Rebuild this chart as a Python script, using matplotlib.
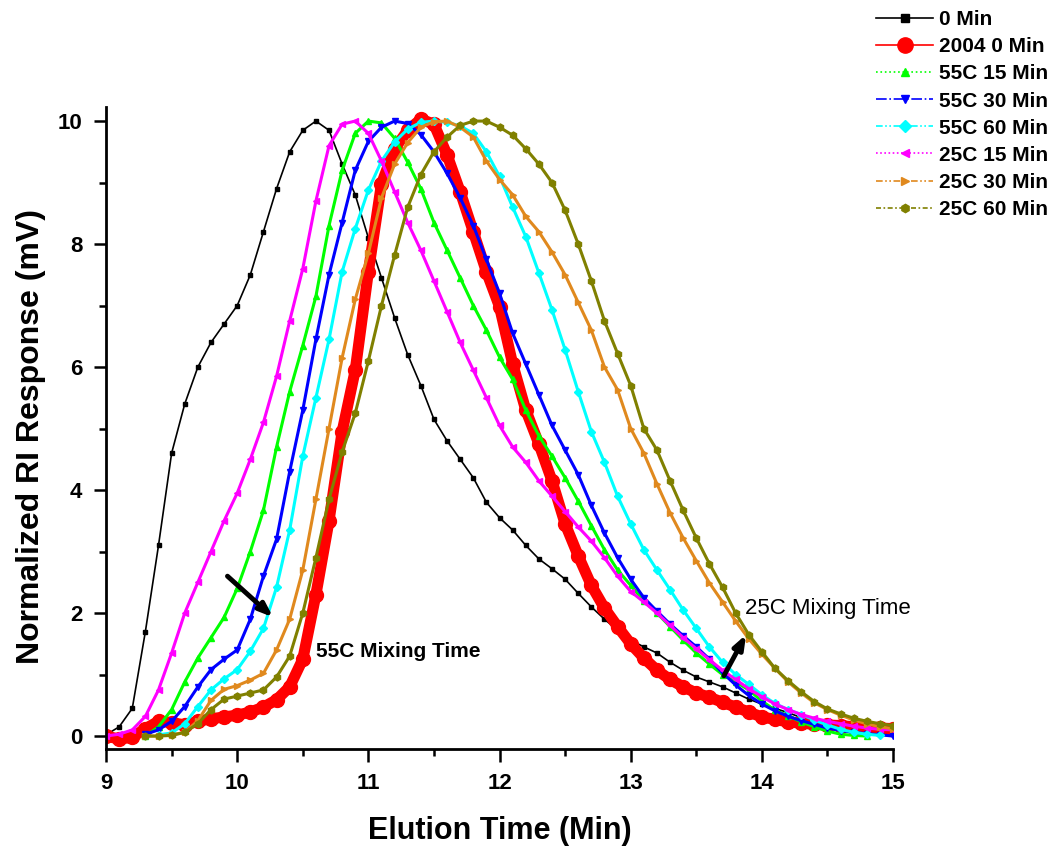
import numpy as np
import matplotlib
matplotlib.use("Agg")
import matplotlib.pyplot as plt
from matplotlib.lines import Line2D

plt.rcParams['font.family'] = ['Liberation Sans', 'DejaVu Sans']

# sampling step of the read-off values (min)
step = 0.1

# series: first elution time + normalized RI response every 0.1 min
t0_0min = 9.0
ri_0min = [0.02, 0.15, 0.45, 1.7, 3.1, 4.6, 5.4, 6.0, 6.4, 6.7,
           7.0, 7.5, 8.2, 8.9, 9.5, 9.85, 10.0, 9.85, 9.3, 8.8,
           8.1, 7.45, 6.8, 6.2, 5.7, 5.15, 4.8, 4.5, 4.2, 3.8,
           3.55, 3.35, 3.1, 2.88, 2.72, 2.55, 2.32, 2.1, 1.9, 1.72,
           1.56, 1.45, 1.35, 1.2, 1.07, 0.96, 0.88, 0.8, 0.7, 0.6,
           0.52, 0.45, 0.38, 0.3, 0.25, 0.2, 0.15, 0.12, 0.09, 0.06, 0.04]

t0_2004 = 9.0
ri_2004 = [0.0, -0.05, -0.02, 0.12, 0.24, 0.22, 0.18, 0.24, 0.28, 0.31,
           0.34, 0.39, 0.47, 0.59, 0.8, 1.25, 2.3, 3.5, 4.95, 5.95,
           7.55, 8.98, 9.55, 9.85, 10.03, 9.95, 9.45, 8.85, 8.2, 7.55,
           6.98, 6.05, 5.3, 4.75, 4.15, 3.45, 2.93, 2.45, 2.08, 1.78,
           1.5, 1.27, 1.07, 0.92, 0.8, 0.7, 0.63, 0.55, 0.47, 0.39,
           0.31, 0.27, 0.23, 0.21, 0.19, 0.18, 0.17, 0.15, 0.14, 0.13, 0.12]

t0_55c15 = 9.3
ri_55c15 = [0.0, 0.15, 0.43, 0.88, 1.27, 1.6, 1.93, 2.4, 3.0, 3.67,
            4.7, 5.6, 6.35, 7.15, 8.3, 9.2, 9.8, 10.0, 9.97, 9.72,
            9.33, 8.9, 8.35, 7.9, 7.45, 7.0, 6.6, 6.16, 5.8, 5.3,
            4.88, 4.55, 4.2, 3.82, 3.42, 3.03, 2.7, 2.45, 2.2, 2.0,
            1.78, 1.56, 1.35, 1.17, 1.0, 0.88, 0.75, 0.57, 0.42, 0.33,
            0.23, 0.15, 0.08, 0.03, 0.01, 0.0]

t0_55c30 = 9.3
ri_55c30 = [0.03, 0.1, 0.24, 0.48, 0.8, 1.08, 1.25, 1.4, 1.9, 2.6,
            3.2, 4.3, 5.3, 6.45, 7.5, 8.35, 9.2, 9.67, 9.9, 10.0,
            9.96, 9.78, 9.5, 9.15, 8.75, 8.3, 7.75, 7.2, 6.55, 6.05,
            5.55, 5.05, 4.65, 4.25, 3.75, 3.3, 2.9, 2.55, 2.25, 2.03,
            1.82, 1.63, 1.45, 1.25, 1.03, 0.83, 0.66, 0.52, 0.41, 0.32,
            0.25, 0.19, 0.13, 0.09, 0.06, 0.04, 0.02, 0.0]

t0_55c60 = 9.4
ri_55c60 = [0.02, 0.05, 0.2, 0.48, 0.75, 0.93, 1.08, 1.38, 1.75, 2.42,
            3.35, 4.55, 5.5, 6.45, 7.55, 8.25, 8.88, 9.35, 9.66, 9.87,
            9.98, 10.0, 9.98, 9.92, 9.8, 9.5, 9.1, 8.6, 8.12, 7.53,
            6.93, 6.28, 5.6, 4.95, 4.45, 3.9, 3.45, 3.03, 2.7, 2.38,
            2.05, 1.75, 1.45, 1.2, 1.0, 0.84, 0.67, 0.53, 0.43, 0.35,
            0.26, 0.18, 0.11, 0.06, 0.03, 0.01]

t0_25c15 = 9.0
ri_25c15 = [0.0, 0.03, 0.1, 0.32, 0.75, 1.35, 2.0, 2.5, 3.0, 3.5,
            3.95, 4.5, 5.1, 5.85, 6.75, 7.6, 8.7, 9.6, 9.95, 10.0,
            9.8, 9.35, 8.85, 8.35, 7.9, 7.4, 6.9, 6.4, 5.95, 5.5,
            5.05, 4.7, 4.45, 4.15, 3.9, 3.65, 3.4, 3.17, 2.9, 2.6,
            2.35, 2.18, 2.0, 1.8, 1.6, 1.42, 1.24, 1.07, 0.92, 0.77,
            0.64, 0.52, 0.43, 0.35, 0.29, 0.24, 0.2, 0.16, 0.13, 0.11, 0.1]

t0_25c30 = 9.3
ri_25c30 = [0.0, 0.0, 0.02, 0.06, 0.25, 0.58, 0.76, 0.82, 0.91, 1.02,
            1.4, 1.9, 2.7, 3.85, 5.0, 6.15, 7.1, 7.85, 8.75, 9.3,
            9.65, 9.9, 9.99, 10.0, 9.9, 9.74, 9.35, 9.05, 8.8, 8.45,
            8.2, 7.87, 7.5, 7.05, 6.6, 6.0, 5.63, 5.0, 4.6, 4.1,
            3.63, 3.22, 2.85, 2.49, 2.18, 1.87, 1.58, 1.33, 1.1, 0.88,
            0.7, 0.54, 0.43, 0.34, 0.26, 0.2, 0.15, 0.12]

t0_25c60 = 9.3
ri_25c60 = [0.0, 0.0, 0.01, 0.06, 0.2, 0.43, 0.6, 0.65, 0.7, 0.75,
            0.96, 1.3, 2.0, 2.9, 3.85, 4.62, 5.25, 6.1, 7.0, 7.82,
            8.6, 9.13, 9.5, 9.74, 9.93, 10.0, 10.0, 9.9, 9.77, 9.55,
            9.3, 9.0, 8.55, 8.0, 7.4, 6.75, 6.22, 5.7, 5.0, 4.65,
            4.15, 3.67, 3.22, 2.8, 2.42, 2.0, 1.65, 1.37, 1.1, 0.9,
            0.72, 0.56, 0.44, 0.36, 0.29, 0.24, 0.2, 0.17]

labels = ['0 Min', '2004 0 Min', '55C 15 Min', '55C 30 Min', '55C 60 Min',
          '25C 15 Min', '25C 30 Min', '25C 60 Min']
starts = [t0_0min, t0_2004, t0_55c15, t0_55c30, t0_55c60, t0_25c15, t0_25c30, t0_25c60]
values = [ri_0min, ri_2004, ri_55c15, ri_55c30, ri_55c60, ri_25c15, ri_25c30, ri_25c60]

# styles (Origin-like)
colors = ['#000000', '#FF0000', '#00FF00', '#0000FF', '#00FFFF', '#FF00FF', '#E0891E', '#808000']
markers = ['s', 'o', '^', 'v', 'D', '<', '>', 'h']
msizes = [3, 10, 5, 5, 4, 5, 5, 5]
bandw = [1.2, 8, 2.2, 2.2, 2.2, 2.2, 2.2, 2.2]
lstyles = ['-', '-', ':', '-.', (0, (4, 1.5, 1, 1.5, 1, 1.5)), (0, (1, 1.5)),
           (0, (4, 1.5, 1, 1.5, 1, 1.5)), (0, (3, 1.5, 1, 1.5))]

fig = plt.figure(figsize=(10.53, 8.46), dpi=100)
ax = fig.add_axes([0.1007, 0.1147, 0.7474, 0.7589])

for lab, t0, y, c, m, ms, lw in zip(labels, starts, values, colors, markers, msizes, bandw):
    t = t0 + step * np.arange(len(y))
    ax.plot(t, y, color=c, lw=lw, marker=m, ms=ms, mec=c, mfc=c, solid_capstyle='round')

ax.set_xlim(9, 15)
ax.set_ylim(-0.21, 10.23)
ax.set_xticks([9, 10, 11, 12, 13, 14, 15])
ax.set_xticks(np.arange(9.5, 15, 1.0), minor=True)
ax.set_yticks([0, 2, 4, 6, 8, 10])
ax.set_yticks([1, 3, 5, 7, 9], minor=True)
for s in ['top', 'right']:
    ax.spines[s].set_visible(False)
for s in ['left', 'bottom']:
    ax.spines[s].set_linewidth(2)
ax.tick_params(which='major', direction='out', length=9, width=1.8, labelsize=16, pad=8)
ax.tick_params(which='minor', direction='out', length=5, width=1.8)
for lbl in ax.get_xticklabels() + ax.get_yticklabels():
    lbl.set_fontweight('bold')

ax.set_xlabel('Elution Time (Min)', fontsize=22, fontweight='bold', labelpad=16)
ax.set_ylabel('Normalized RI Response (mV)', fontsize=23, fontweight='bold')
ax.yaxis.set_label_coords(-0.076, 0.487)

# mixing-time arrows and notes
ax.annotate('', xy=(10.29, 1.90), xytext=(9.91, 2.63),
            arrowprops=dict(arrowstyle='-|>,head_width=0.3,head_length=0.8', lw=3.5, color='black'))
ax.text(10.6, 1.38, '55C Mixing Time', fontsize=15, fontweight='bold', va='center', ha='left')
ax.annotate('', xy=(13.89, 1.69), xytext=(13.70, 0.94),
            arrowprops=dict(arrowstyle='-|>,head_width=0.3,head_length=0.8', lw=3.5, color='black'))
ax.text(13.87, 2.08, '25C Mixing Time', fontsize=16, va='center', ha='left')

handles = [Line2D([0], [0], color=c, lw=1.2, ls=ls, marker=m, ms=(11 if m == 'o' else 6), mec=c, mfc=c)
           for c, m, ls in zip(colors, markers, lstyles)]
fig.legend(handles, labels, loc='upper left', bbox_to_anchor=(0.832, 0.988), frameon=False,
           borderpad=0, borderaxespad=0, handlelength=2.75, handletextpad=0.25, labelspacing=0.39,
           prop={'size': 15, 'weight': 'bold'})

fig.savefig('out.png', dpi=100)
